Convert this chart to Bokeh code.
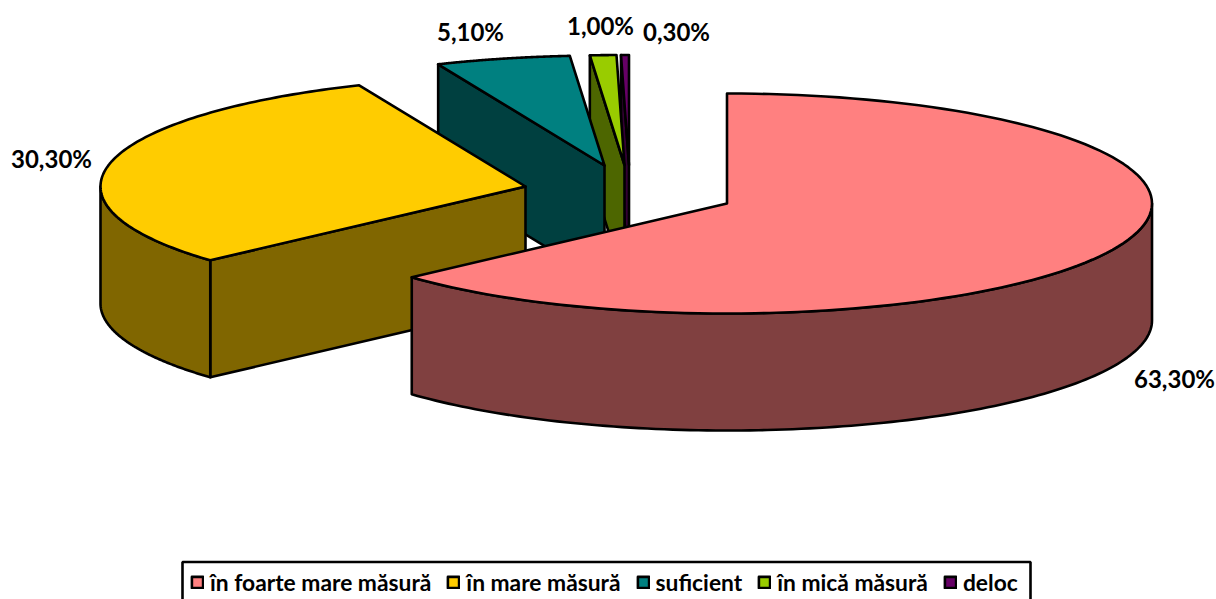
import numpy as np
from bokeh.core.properties import value
from bokeh.embed import file_html
from bokeh.models import BoxAnnotation, ColumnDataSource, Legend, LegendItem, Range1d
from bokeh.plotting import figure
from bokeh.resources import INLINE

categories = ["în foarte mare măsură", "în mare măsură", "suficient", "în mică măsură", "deloc"]
shares = [63.3, 30.3, 5.1, 1.0, 0.3]
label_texts = ["63,30%", "30,30%", "5,10%", "1,00%", "0,30%"]

top_colors = ["#FF8080", "#FFCC00", "#008080", "#99CC00", "#660066"]
wall_colors = ["#804040", "#806600", "#004040", "#4D6600", "#330033"]

# projection of the exploded 3-D pie, in page pixels
centers_x = [726.5, 525, 604, 624, 628.5]
centers_y = [203, 186, 165, 164.5, 164.5]
RX, RY, DEPTH = 425, 110, 117
label_x = [1174, 51, 470, 600, 676]
label_y = [378, 158, 31, 25, 31]

W, H = 1216, 599
p = figure(width=W, height=H, output_backend="svg", toolbar_location=None,
           x_range=Range1d(0, W), y_range=Range1d(H, 0),
           min_border=0, outline_line_color=None, background_fill_color="white")
p.axis.visible = False
p.grid.visible = False


def ring(cx, cy, a0, a1, n=120):
    t = np.radians(np.linspace(a0, a1, n))
    return cx + RX * np.sin(t), cy - RY * np.cos(t)


edges = np.concatenate([[0], np.cumsum(shares) * 3.6])
style = dict(line_color="black", line_width=2.6, line_join="round")
items = []
# back to front
for i in [4, 3, 2, 1, 0]:
    a0, a1 = edges[i], edges[i + 1]
    cx, cy = centers_x[i], centers_y[i]
    # radial cut face at the start of the slice, if it faces the viewer
    if np.cos(np.radians(a0 - 90)) < 0:
        sx, sy = ring(cx, cy, a0, a0, 1)
        xs = [cx, sx[0], sx[0], cx]
        ys = [cy, sy[0], sy[0] + DEPTH, cy + DEPTH]
        p.patch(xs, ys, fill_color=wall_colors[i], **style)
    # curved outer wall: only the front half of the rim shows
    w0, w1 = max(a0, 90), min(a1, 270)
    if w1 > w0:
        ax, ay = ring(cx, cy, w0, w1)
        xs = np.concatenate([ax, ax[::-1]])
        ys = np.concatenate([ay, ay[::-1] + DEPTH])
        p.patch(xs, ys, fill_color=wall_colors[i], **style)
    ax, ay = ring(cx, cy, a0, a1)
    r = p.patch(np.concatenate([[cx], ax]), np.concatenate([[cy], ay]),
                fill_color=top_colors[i], **style)
    items.insert(0, LegendItem(label=categories[i], renderers=[r]))

src = ColumnDataSource(dict(x=label_x, y=label_y, t=label_texts))
p.text("x", "y", text="t", source=src, text_font=value("Lato"), text_font_style="bold",
       text_font_size="24px", text_align="center", text_baseline="middle", text_color="black")

# legend frame, open at the bottom edge of the page as in the reference
p.add_layout(BoxAnnotation(left=182, right=1030, top=561.5, bottom=615,
                           fill_color="white", fill_alpha=1,
                           line_color="black", line_alpha=1, line_width=2.6))

legend = Legend(items=items, orientation="horizontal", location=(190, 3),
                border_line_color=None, background_fill_alpha=0,
                label_text_font="Lato", label_text_font_style="bold",
                label_text_font_size="22.8px", label_text_color="black",
                glyph_width=14, glyph_height=14, label_standoff=6, spacing=15,
                padding=0, margin=0, label_height=20)
p.add_layout(legend, "center")

open("out.html", "w").write(file_html(p, INLINE))
